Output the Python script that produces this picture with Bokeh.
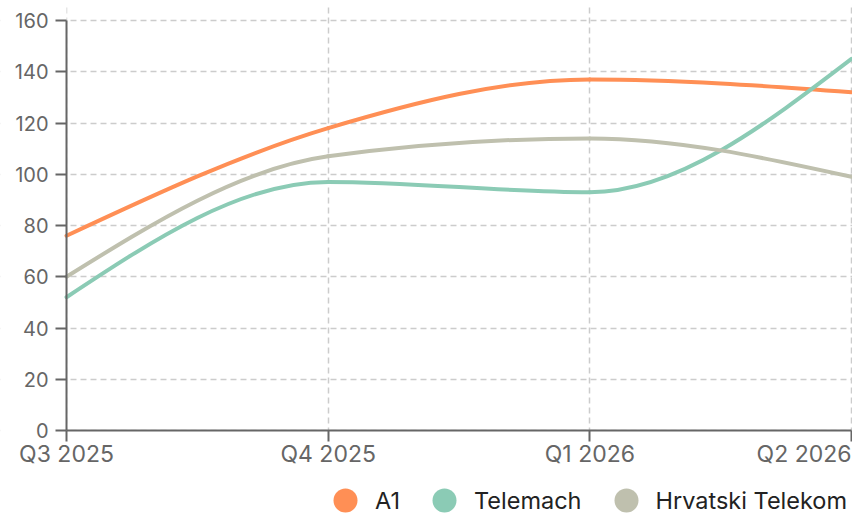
import numpy as np
from bokeh.plotting import figure
from bokeh.models import (Range1d, FixedTicker, Label, Legend, LegendItem, ColumnDataSource,
                          BoxAnnotation)
from bokeh.embed import file_html
from bokeh.resources import INLINE

quarters = ["Q3 2025", "Q4 2025", "Q1 2026", "Q2 2026"]
a1 = [76, 118, 137, 132]
telemach = [52, 97, 93, 145]
hrvatski = [60, 107, 114, 99]
series_names = ["A1", "Telemach", "Hrvatski Telekom"]
series_values = [a1, telemach, hrvatski]
colors = ["#ff8f55", "#8bcbb5", "#bfc0ae"]
y_ticks = [0, 20, 40, 60, 80, 100, 120, 140, 160]

FONT = "Inter"
TICK_COLOR = "#666666"

# layout (pixels): canvas and where the plotting area should sit inside it
W, H = 852, 513
FRAME_TOP = 4          # min_border_top
X0_PX, X1_PX = 66, 851  # screen x of first / last quarter
Y0_PX, Y1_PX = 430, 20  # screen y of value 0 / value 160


def monotone_tangents(x, y):
    n = len(x)
    t = [0.0] * n
    for i in range(1, n - 1):
        h0 = x[i] - x[i - 1]
        h1 = x[i + 1] - x[i]
        s0 = (y[i] - y[i - 1]) / h0
        s1 = (y[i + 1] - y[i]) / h1
        pp = (s0 * h1 + s1 * h0) / (h0 + h1)
        t[i] = (np.sign(s0) + np.sign(s1)) * min(abs(s0), abs(s1), 0.5 * abs(pp))
    h = x[1] - x[0]
    t[0] = (3 * (y[1] - y[0]) / h - t[1]) / 2
    h = x[-1] - x[-2]
    t[-1] = (3 * (y[-1] - y[-2]) / h - t[-2]) / 2
    return t


def bezier_source(x, y):
    t = monotone_tangents(x, y)
    d = dict(x0=[], y0=[], x1=[], y1=[], cx0=[], cy0=[], cx1=[], cy1=[])
    for i in range(len(x) - 1):
        dx = (x[i + 1] - x[i]) / 3
        d["x0"].append(x[i]); d["y0"].append(y[i])
        d["x1"].append(x[i + 1]); d["y1"].append(y[i + 1])
        d["cx0"].append(x[i] + dx); d["cy0"].append(y[i] + dx * t[i])
        d["cx1"].append(x[i + 1] - dx); d["cy1"].append(y[i + 1] - dx * t[i + 1])
    return ColumnDataSource(d)


xs = list(range(len(quarters)))
x_last = xs[-1]
y_top = y_ticks[-1]

# ranges chosen so the frame can fill the canvas (texts outside the axes stay unclipped)
x_per_px = x_last / (X1_PX - X0_PX)
y_per_px = y_top / (Y0_PX - Y1_PX)
x_range = Range1d(-X0_PX * x_per_px, x_last + (W - X1_PX) * x_per_px)
y_range = Range1d(-(H - Y0_PX) * y_per_px, y_top + (Y1_PX - FRAME_TOP) * y_per_px)

p = figure(width=W, height=H, x_range=x_range, y_range=y_range,
           x_axis_location="above", y_axis_location="right",
           output_backend="svg", toolbar_location=None,
           min_border_left=0, min_border_right=0, min_border_top=FRAME_TOP, min_border_bottom=0)
p.outline_line_color = None
p.background_fill_color = "white"
p.border_fill_color = "white"

# grid
p.xgrid.ticker = FixedTicker(ticks=xs)
p.ygrid.ticker = FixedTicker(ticks=y_ticks)
for g in (p.xgrid, p.ygrid):
    g.grid_line_color = "#cccccc"
    g.grid_line_dash = "6 4"
    g.grid_line_width = 1.5
# keep grid inside the value area
for kw in (dict(top=0), dict(right=0)):
    p.add_layout(BoxAnnotation(fill_color="white", fill_alpha=1, line_alpha=0, level="underlay", **kw))

# axes drawn at value 0 / first quarter, ticks only
xa, ya = p.xaxis[0], p.yaxis[0]
xa.fixed_location = 0
ya.fixed_location = 0
xa.bounds = (0, x_last)
ya.bounds = (0, y_top)
xa.ticker = FixedTicker(ticks=[], minor_ticks=xs)
ya.ticker = FixedTicker(ticks=[], minor_ticks=y_ticks)
for ax, ln in ((xa, 11), (ya, 11)):
    ax.axis_line_color = TICK_COLOR
    ax.axis_line_width = 2
    ax.major_tick_out = 0
    ax.major_tick_in = 0
    ax.minor_tick_line_color = TICK_COLOR
    ax.minor_tick_line_width = 2
    ax.minor_tick_out = 0
    ax.minor_tick_in = ln

# lines
for name, vals, color in zip(series_names, series_values, colors):
    src = bezier_source(xs, vals)
    p.bezier(x0="x0", y0="y0", x1="x1", y1="y1", cx0="cx0", cy0="cy0", cx1="cx1", cy1="cy1",
             source=src, line_color=color, line_width=4, line_cap="round")

# tick labels
for i, q in enumerate(quarters):
    align = "right" if i == len(quarters) - 1 else "center"
    p.add_layout(Label(x=i, y=0, y_offset=-9, text=q, text_align=align, text_baseline="top",
                       text_font=FONT, text_font_size="23px", text_color=TICK_COLOR))
for v in y_ticks:
    p.add_layout(Label(x=0, y=v, x_offset=-18, text=str(v), text_align="right",
                       text_baseline="middle", text_font=FONT, text_font_size="20px",
                       text_color=TICK_COLOR))

# legend (marker-only renderers with no visible point)
items = []
for name, color in zip(series_names, colors):
    r = p.scatter(x=[np.nan], y=[np.nan], marker="circle", size=24, fill_color=color, line_color=None)
    items.append(LegendItem(label=name, renderers=[r]))
legend = Legend(items=items, location=(315, -17), orientation="horizontal",
                glyph_width=60, glyph_height=60, label_standoff=0, spacing=14,
                padding=0, margin=0, background_fill_alpha=0, border_line_color=None,
                label_text_font=FONT, label_text_font_size="23.5px", label_text_color="#222222")
p.add_layout(legend, "center")

open("out.html", "w").write(file_html(p, INLINE))
